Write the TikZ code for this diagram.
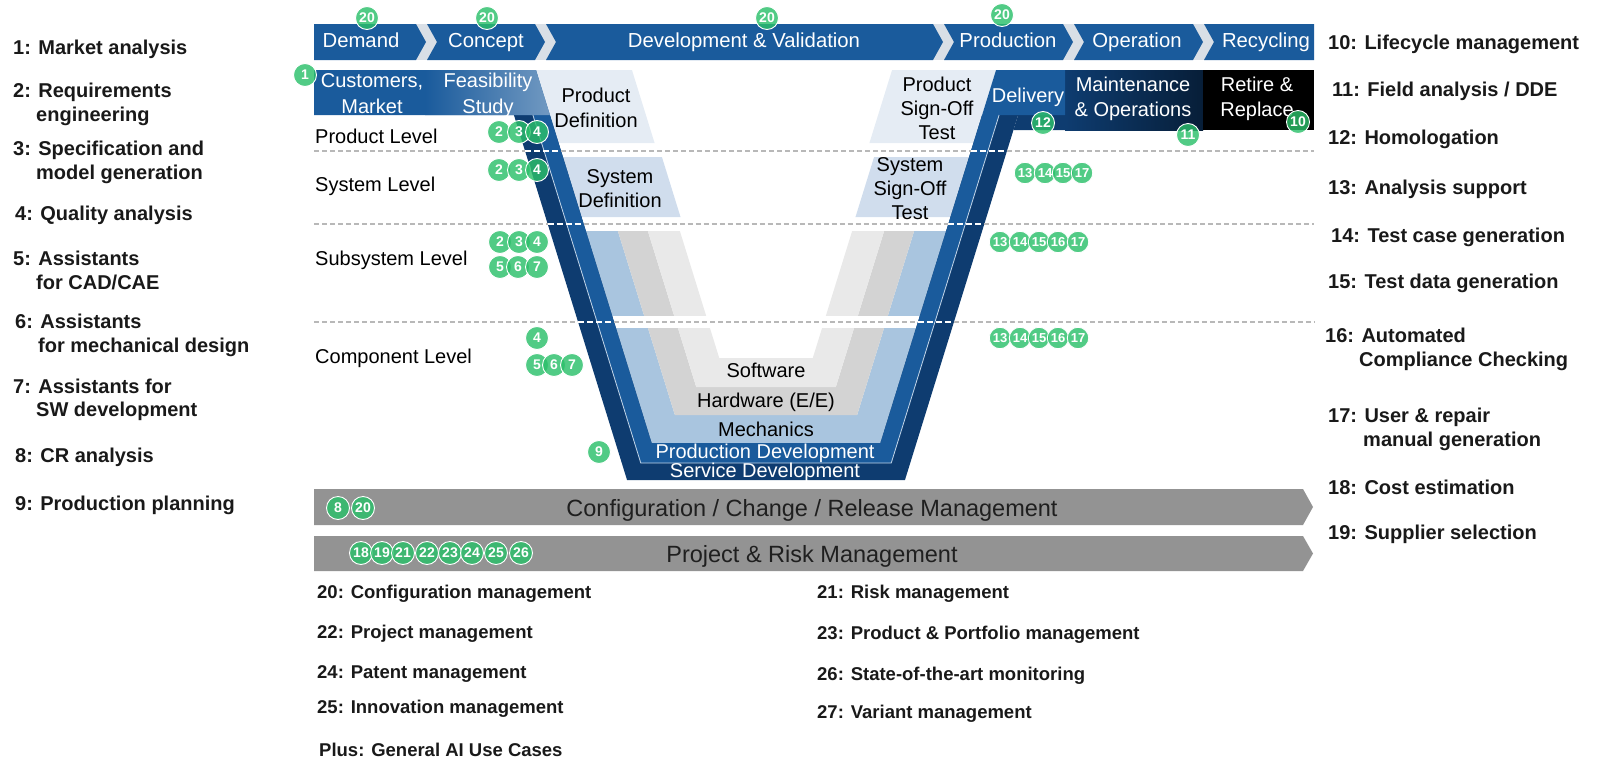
\documentclass[tikz,border=0pt]{standalone}
\usepackage{fontspec}
\setmainfont{Liberation Sans}
\definecolor{vblue}{HTML}{1A5B9C}
\definecolor{vnavy}{HTML}{0E3C70}
\definecolor{vmech}{HTML}{A9C5DF}
\definecolor{vhw}{HTML}{D3D3D3}
\definecolor{vsw}{HTML}{E9E9E9}
\definecolor{vdefa}{HTML}{E5ECF4}
\definecolor{vdefb}{HTML}{D0DDED}
\definecolor{vgap}{HTML}{D9DFE6}
\definecolor{vgray}{HTML}{939393}
\definecolor{vgreen}{HTML}{2BBF6A}
\definecolor{vdash}{HTML}{B8B8B8}
% U-shaped band: colour, h1, h2, v1, v2, top-left y, top-right y
\newcommand\myuband[7]{%
  \fill[#1] ({vxl(#6)+#2},#6) -- ({vxl(480-#4)+#2},{480-#4}) -- ({vxr(480-#4)-#2},{480-#4}) -- ({vxr(#7)-#2},#7)
   -- ({vxr(#7)-#3},#7) -- ({vxr(480-#5)-#3},{480-#5}) -- ({vxl(480-#5)+#3},{480-#5}) -- ({vxl(#6)+#3},#6) -- cycle;}
\begin{document}
\begin{tikzpicture}[x=1pt,y=-1pt,
  declare function={vxl(\q)=548+0.31*(\q-225); vxr(\q)=984-0.31*(\q-225);},
  badge/.style={circle, fill=vgreen, fill opacity=0.82, text opacity=1, draw=white, line width=0.9pt,
    text=white, font=\bfseries\fontsize{14}{14}\selectfont, inner sep=0pt, minimum size=23pt},
  sbadge/.style={badge, minimum size=21.5pt, font=\bfseries\fontsize{13}{13}\selectfont},
  barlbl/.style={anchor=base, inner sep=0pt, text=white, font=\fontsize{20.3}{24}\selectfont},
  wlbl/.style={anchor=base, inner sep=0pt, text=white, font=\fontsize{20}{24}\selectfont},
  klbl/.style={anchor=base, inner sep=0pt, text=black, font=\fontsize{20}{24}\selectfont},
  lvl/.style={anchor=base west, inner sep=0pt, text=black, font=\fontsize{20}{24}\selectfont},
  slist/.style={anchor=base west, inner sep=0pt, text=black!90, font=\bfseries\fontsize{20}{24}\selectfont},
  blist/.style={anchor=base west, inner sep=0pt, text=black!90, font=\bfseries\fontsize{18.5}{22}\selectfont},
  gbar/.style={anchor=base, inner sep=0pt, text=black!88, font=\fontsize{23.5}{28}\selectfont},
  lvline/.style={draw=vdash, line width=1.1pt, dash pattern=on 5pt off 3pt},
  armdash/.style={draw=white, line width=1.8pt, dash pattern=on 6pt off 3pt},
]
\useasboundingbox (0,0) rectangle (1600,771);

% ---------- top phase bar ----------
\fill[vgap] (330,24) rectangle (1300,60);
\fill[vblue] (314,24) -- (416,24) -- (426,42) -- (416,60) -- (314,60) -- cycle;
\fill[vblue] (427,24) -- (535,24) -- (545,42) -- (535,60) -- (427,60) -- (437,42) -- cycle;
\fill[vblue] (546,24) -- (933,24) -- (943,42) -- (933,60) -- (546,60) -- (556,42) -- cycle;
\fill[vblue] (944,24) -- (1063,24) -- (1073,42) -- (1063,60) -- (944,60) -- (954,42) -- cycle;
\fill[vblue] (1074,24) -- (1193,24) -- (1203,42) -- (1193,60) -- (1074,60) -- (1084,42) -- cycle;
\fill[vblue] (1204,24) -- (1314,24) -- (1314,60) -- (1204,60) -- (1214,42) -- cycle;
\node[barlbl] (pdemand) at (361,47) {Demand};
\node[barlbl] (pconcept) at (486,47) {Concept};
\node[barlbl] (pdev) at (744,47) {Development \& Validation};
\node[barlbl] (pprod) at (1008,47) {Production};
\node[barlbl] (poper) at (1137,47) {Operation};
\node[barlbl] (precyc) at (1266,47) {Recycling};

% ---------- inner discipline bands ----------
\myuband{vmech}{36}{68}{37}{65}{231}{231}
\myuband{vhw}{68}{98}{65}{93}{231}{231}
\myuband{vsw}{98}{130}{93}{122}{231}{231}
\fill[white] ({vxl(316)+30},316) rectangle ({vxr(316)-30},328);

% ---------- definition / sign-off boxes ----------
\fill[vdefa] ({vxl(70)+36},70) -- ({vxl(70)+132},70) -- ({vxl(143)+132},143) -- ({vxl(143)+36},143) -- cycle;
\fill[vdefb] ({vxl(157)+36},157) -- ({vxl(157)+135},157) -- ({vxl(217)+135},217) -- ({vxl(217)+36},217) -- cycle;
\fill[vdefa] ({vxr(70)-140},70) -- ({vxr(70)-36},70) -- ({vxr(143)-36},143) -- ({vxr(143)-140},143) -- cycle;
\fill[vdefb] ({vxr(157)-131},157) -- ({vxr(157)-36},157) -- ({vxr(217)-36},217) -- ({vxr(217)-131},217) -- cycle;

% ---------- V arms and operation band ----------
\fill[vnavy] ({vxr(130)},130) -- (1203,130) -- (1203,70) -- ({vxr(70)},70) -- cycle;
\shade[left color=vnavy, right color=vnavy!50!black] (1065,70) rectangle (1203,130);
\fill[black] (1203,70) rectangle (1314,130);
\myuband{vnavy}{0}{36}{0}{37}{115}{115}
\myuband{vblue}{19}{36}{17}{37}{115}{115}
\fill[vblue] ({vxr(70)-36},70) -- (1065,70) -- (1065,115) -- ({vxr(115)-36},115) -- cycle;

% ---------- customers band ----------
\fill[vblue] (314,70) -- ({vxl(70)+36},70) -- ({vxl(115)+36},115) -- (314,115) -- cycle;
\shade[left color=vblue, right color=vblue!62!white] (425,70) -- ({vxl(70)+36},70) -- ({vxl(115)+36},115) -- (425,115) -- cycle;

% thin separator line
\draw[vmech!70!white, line width=0.8pt] ({vxl(115)+19},115) -- ({vxl(463)+19},463) -- ({vxr(463)-19},463) -- ({vxr(115)-19},115);

% ---------- level lines ----------
\foreach \Y in {151,224,322} {
  \draw[lvline] (314,\Y) -- ({vxl(\Y)},\Y);
  \draw[lvline] ({vxl(\Y)+36},\Y) -- ({vxr(\Y)-36},\Y);
  \draw[lvline] ({vxr(\Y)},\Y) -- (1314,\Y);
  \draw[armdash] ({vxl(\Y)},\Y) -- ({vxl(\Y)+36},\Y);
  \draw[armdash] ({vxr(\Y)-36},\Y) -- ({vxr(\Y)},\Y);
}

% ---------- bottom bars ----------
\fill[vgray] (314,489) -- (1303,489) -- (1313,507) -- (1303,525) -- (314,525) -- cycle;
\fill[vgray] (314,536) -- (1303,536) -- (1313,553.5) -- (1303,571) -- (314,571) -- cycle;
\node[gbar] (crm) at (812,516) {Configuration / Change / Release Management};
\node[gbar] (prm) at (812,562) {Project \& Risk Management};

% ---------- labels in the V ----------
\node[wlbl] (cust1) at (372,87) {Customers,};
\node[wlbl] (cust2) at (372,113) {Market};
\node[wlbl] (feas1) at (488,87) {Feasibility};
\node[wlbl] (feas2) at (488,113) {Study};
\node[klbl] (pdef1) at (596,102.5) {Product};
\node[klbl] (pdef2) at (596,127) {Definition};
\node[klbl] (sdef1) at (620,183) {System};
\node[klbl] (sdef2) at (620,207) {Definition};
\node[klbl] (pso1) at (937,91) {Product};
\node[klbl] (pso2) at (937,115) {Sign-Off};
\node[klbl] (pso3) at (937,139) {Test};
\node[klbl] (sso1) at (910,171) {System};
\node[klbl] (sso2) at (910,195) {Sign-Off};
\node[klbl] (sso3) at (910,219) {Test};
\node[wlbl] (deliv) at (1028,102) {Delivery};
\node[wlbl] (maint1) at (1133,91) {Maintenance};
\node[wlbl] (maint2) at (1133,116) {\& Operations};
\node[wlbl] (ret1) at (1257,91) {Retire \&};
\node[wlbl] (ret2) at (1257,116) {Replace};
\node[klbl] (sw) at (766,377) {Software};
\node[klbl] (hw) at (766,407) {Hardware (E/E)};
\node[klbl] (mech) at (766,436) {Mechanics};
\node[wlbl] (pdev) at (765,458) {Production Development};
\node[wlbl] (sdev) at (765,477) {Service Development};

\node[lvl] (lvprod) at (315,143.5) {Product Level};
\node[lvl] (lvsys) at (315,191.5) {System Level};
\node[lvl] (lvsub) at (315,265) {Subsystem Level};
\node[lvl] (lvcomp) at (315,363) {Component Level};

% ---------- left list ----------
\node[slist] (l1) at (13,54) {1: Market analysis};
\node[slist] (l2a) at (13,97) {2: Requirements};
\node[slist] (l2b) at (36,121) {engineering};
\node[slist] (l3a) at (13,155) {3: Specification and};
\node[slist] (l3b) at (36,179) {model generation};
\node[slist] (l4) at (15,220) {4: Quality analysis};
\node[slist] (l5a) at (13,265) {5: Assistants};
\node[slist] (l5b) at (36,289) {for CAD/CAE};
\node[slist] (l6a) at (15,328) {6: Assistants};
\node[slist] (l6b) at (38,352) {for mechanical design};
\node[slist] (l7a) at (13,393) {7: Assistants for};
\node[slist] (l7b) at (36,416) {SW development};
\node[slist] (l8) at (15,462) {8: CR analysis};
\node[slist] (l9) at (15,510) {9: Production planning};

% ---------- right list ----------
\node[slist] (r10) at (1328,49) {10: Lifecycle management};
\node[slist] (r11) at (1332,96) {11: Field analysis / DDE};
\node[slist] (r12) at (1328,144) {12: Homologation};
\node[slist] (r13) at (1328,194) {13: Analysis support};
\node[slist] (r14) at (1331,242) {14: Test case generation};
\node[slist] (r15) at (1328,288) {15: Test data generation};
\node[slist] (r16a) at (1325,342) {16: Automated};
\node[slist] (r16b) at (1359,366) {Compliance Checking};
\node[slist] (r17a) at (1328,422) {17: User \& repair};
\node[slist] (r17b) at (1363,446) {manual generation};
\node[slist] (r18) at (1328,494) {18: Cost estimation};
\node[slist] (r19) at (1328,539) {19: Supplier selection};

% ---------- bottom list ----------
\node[blist] (u20) at (317,598) {20: Configuration management};
\node[blist] (u22) at (317,638) {22: Project management};
\node[blist] (u24) at (317,678) {24: Patent management};
\node[blist] (u25) at (317,713) {25: Innovation management};
\node[blist] (uplus) at (319,756) {Plus: General AI Use Cases};
\node[blist] (u21) at (817,598) {21: Risk management};
\node[blist] (u23) at (817,639) {23: Product \& Portfolio management};
\node[blist] (u26) at (817,680) {26: State-of-the-art monitoring};
\node[blist] (u27) at (817,718) {27: Variant management};

% ---------- badges ----------
\node[badge] (bt1) at (367,18) {20};
\node[badge] (bt2) at (487,18) {20};
\node[badge] (bt3) at (767,18) {20};
\node[badge] (bt4) at (1002,15) {20};
\node[badge] (bone) at (305,75) {1};
\foreach \n/\x in {2/499,3/519,4/537} { \node[badge] (bp\n) at (\x,132) {\n}; }
\foreach \n/\x in {2/499,3/519,4/537} { \node[badge] (bs\n) at (\x,170) {\n}; }
\foreach \n/\x in {2/500,3/519,4/537} { \node[badge] (bu\n) at (\x,242) {\n}; }
\foreach \n/\x in {5/500,6/518,7/537} { \node[badge] (bu\n) at (\x,267) {\n}; }
\node[badge] (bc4) at (537,338) {4};
\foreach \n/\x in {5/537,6/554,7/572} { \node[badge] (bc\n) at (\x,365) {\n}; }
\node[badge] (bnine) at (599,452) {9};
\node[badge] (btw) at (1043,123) {12};
\node[badge] (bel) at (1188,135) {11};
\node[badge] (bte) at (1298,122) {10};
\foreach \n/\x in {13/1025,14/1045,15/1063,17/1082} { \node[sbadge] (rs\n) at (\x,173) {\n}; }
\foreach \n/\x in {13/1000,14/1020,15/1039,16/1058,17/1078} { \node[sbadge] (ru\n) at (\x,242) {\n}; }
\foreach \n/\x in {13/1000,14/1020,15/1039,16/1058,17/1078} { \node[sbadge] (rc\n) at (\x,338) {\n}; }
\node[badge] (gb8) at (338,508) {8};
\node[badge] (gb20) at (363,508) {20};
\foreach \n/\x in {18/361,19/382,21/403,22/427,23/450,24/472,25/496,26/521} { \node[badge] (pb\n) at (\x,553) {\n}; }
\end{tikzpicture}
\end{document}
